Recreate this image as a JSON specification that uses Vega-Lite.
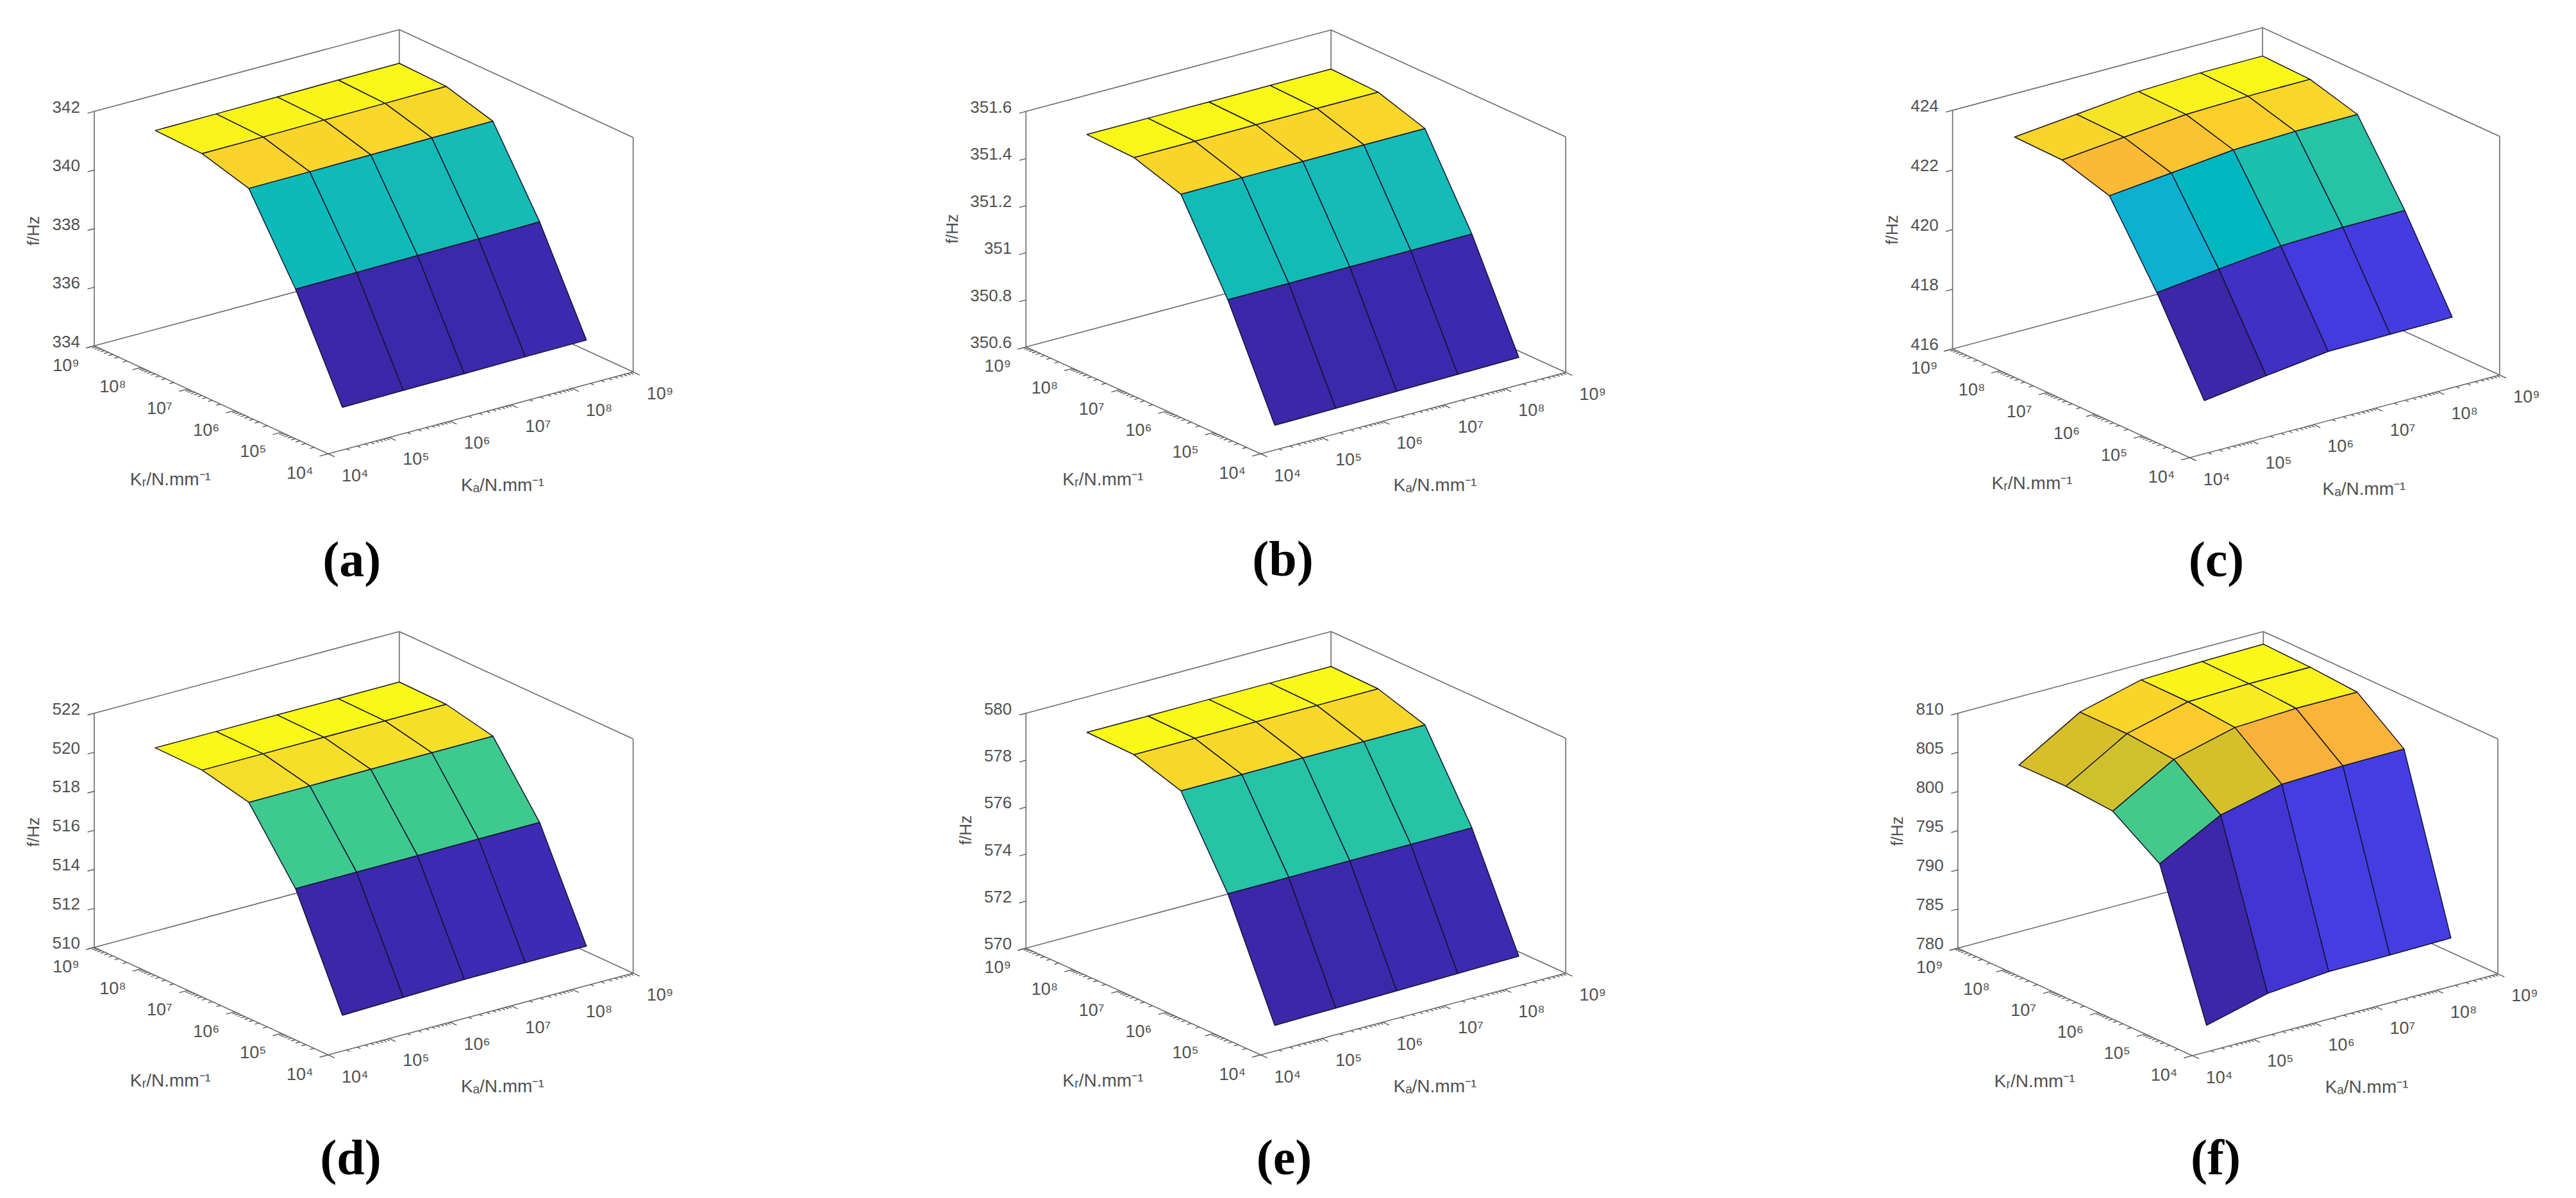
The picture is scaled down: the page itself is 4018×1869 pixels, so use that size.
{
"$schema":"https://vega.github.io/schema/vega-lite/v6.json",
"width":4018,"height":1869,"padding":0,
"autosize":{"type":"fit","contains":"padding"},
"background":"#ffffff",
"config":{"view":{"stroke":null}},
"params":[{"name":"g","value":{
"a":{"fx":511.8,"fy":708,"ux":95.16,"uy":-25.54,"vx":-72.96,"vy":-33.69,"zh":365.7,"z0":334,"z1":342,"tx":53,"ty":360,"cx":548.7,"cy":876},
"b":{"fx":1966.4,"fy":708,"ux":95.16,"uy":-25.42,"vx":-73.22,"vy":-33.33,"zh":367.5,"z0":350.6,"z1":351.6,"tx":1486,"ty":357,"cx":2001,"cy":875},
"c":{"fx":3415.5,"fy":714,"ux":96.69,"uy":-25.78,"vx":-73.98,"vy":-33.93,"zh":372.3,"z0":416,"z1":424,"tx":2951.5,"ty":358.5,"cx":3457,"cy":876},
"d":{"fx":511.8,"fy":1645.7,"ux":95.16,"uy":-25.51,"vx":-72.96,"vy":-33.54,"zh":365.3,"z0":510,"z1":522,"tx":53,"ty":1298,"cx":547,"cy":1809},
"e":{"fx":1966.4,"fy":1645.7,"ux":95.16,"uy":-25.51,"vx":-73.22,"vy":-33.3,"zh":366.5,"z0":570,"z1":580,"tx":1507,"ty":1295,"cx":2003,"cy":1809},
"f":{"fx":3419.6,"fy":1646.9,"ux":95.29,"uy":-25.51,"vx":-73.16,"vy":-33.54,"zh":366.5,"z0":780,"z1":810,"tx":2960,"ty":1296.5,"cx":3456,"cy":1809}
}}],
"datasets":{
"panels":[{"panel":"a","caption":"(a)"},{"panel":"b","caption":"(b)"},{"panel":"c","caption":"(c)"},{"panel":"d","caption":"(d)"},{"panel":"e","caption":"(e)"},{"panel":"f","caption":"(f)"}],
"edges":[
{"ka1":4,"kr1":9,"l1":0,"ka2":4,"kr2":4,"l2":0},
{"ka1":4,"kr1":4,"l1":0,"ka2":9,"kr2":4,"l2":0},
{"ka1":4,"kr1":9,"l1":0,"ka2":9,"kr2":9,"l2":0},
{"ka1":9,"kr1":4,"l1":0,"ka2":9,"kr2":9,"l2":0},
{"ka1":4,"kr1":9,"l1":0,"ka2":4,"kr2":9,"l2":1},
{"ka1":9,"kr1":4,"l1":0,"ka2":9,"kr2":4,"l2":1},
{"ka1":9,"kr1":9,"l1":0,"ka2":9,"kr2":9,"l2":1},
{"ka1":4,"kr1":9,"l1":1,"ka2":9,"kr2":9,"l2":1},
{"ka1":9,"kr1":4,"l1":1,"ka2":9,"kr2":9,"l2":1}
],
"logticks":[
{"e":4,"len":0.14},{"e":4.301,"len":0.07},{"e":4.477,"len":0.07},{"e":4.602,"len":0.07},{"e":4.699,"len":0.07},{"e":4.778,"len":0.07},{"e":4.845,"len":0.07},{"e":4.903,"len":0.07},{"e":4.954,"len":0.07},
{"e":5,"len":0.14},{"e":5.301,"len":0.07},{"e":5.477,"len":0.07},{"e":5.602,"len":0.07},{"e":5.699,"len":0.07},{"e":5.778,"len":0.07},{"e":5.845,"len":0.07},{"e":5.903,"len":0.07},{"e":5.954,"len":0.07},
{"e":6,"len":0.14},{"e":6.301,"len":0.07},{"e":6.477,"len":0.07},{"e":6.602,"len":0.07},{"e":6.699,"len":0.07},{"e":6.778,"len":0.07},{"e":6.845,"len":0.07},{"e":6.903,"len":0.07},{"e":6.954,"len":0.07},
{"e":7,"len":0.14},{"e":7.301,"len":0.07},{"e":7.477,"len":0.07},{"e":7.602,"len":0.07},{"e":7.699,"len":0.07},{"e":7.778,"len":0.07},{"e":7.845,"len":0.07},{"e":7.903,"len":0.07},{"e":7.954,"len":0.07},
{"e":8,"len":0.14},{"e":8.301,"len":0.07},{"e":8.477,"len":0.07},{"e":8.602,"len":0.07},{"e":8.699,"len":0.07},{"e":8.778,"len":0.07},{"e":8.845,"len":0.07},{"e":8.903,"len":0.07},{"e":8.954,"len":0.07},
{"e":9,"len":0.14}
],
"decades":[{"e":4,"txt":"10⁴"},{"e":5,"txt":"10⁵"},{"e":6,"txt":"10⁶"},{"e":7,"txt":"10⁷"},{"e":8,"txt":"10⁸"},{"e":9,"txt":"10⁹"}],
"zticks":[
{"panel":"a","f":334},{"panel":"a","f":336},{"panel":"a","f":338},{"panel":"a","f":340},{"panel":"a","f":342},
{"panel":"b","f":350.6},{"panel":"b","f":350.8},{"panel":"b","f":351},{"panel":"b","f":351.2},{"panel":"b","f":351.4},{"panel":"b","f":351.6},
{"panel":"c","f":416},{"panel":"c","f":418},{"panel":"c","f":420},{"panel":"c","f":422},{"panel":"c","f":424},
{"panel":"d","f":510},{"panel":"d","f":512},{"panel":"d","f":514},{"panel":"d","f":516},{"panel":"d","f":518},{"panel":"d","f":520},{"panel":"d","f":522},
{"panel":"e","f":570},{"panel":"e","f":572},{"panel":"e","f":574},{"panel":"e","f":576},{"panel":"e","f":578},{"panel":"e","f":580},
{"panel":"f","f":780},{"panel":"f","f":785},{"panel":"f","f":790},{"panel":"f","f":795},{"panel":"f","f":800},{"panel":"f","f":805},{"panel":"f","f":810}
],
"grid":[
{"panel":"a","ka":5,"kr":5,"f":334.29},{"panel":"a","ka":6,"kr":5,"f":334.31},{"panel":"a","ka":7,"kr":5,"f":334.32},{"panel":"a","ka":8,"kr":5,"f":334.34},{"panel":"a","ka":9,"kr":5,"f":334.35},
{"panel":"a","ka":5,"kr":6,"f":337.59},{"panel":"a","ka":6,"kr":6,"f":337.6},{"panel":"a","ka":7,"kr":6,"f":337.62},{"panel":"a","ka":8,"kr":6,"f":337.63},{"panel":"a","ka":9,"kr":6,"f":337.65},
{"panel":"a","ka":5,"kr":7,"f":340.29},{"panel":"a","ka":6,"kr":7,"f":340.3},{"panel":"a","ka":7,"kr":7,"f":340.32},{"panel":"a","ka":8,"kr":7,"f":340.34},{"panel":"a","ka":9,"kr":7,"f":340.35},
{"panel":"a","ka":5,"kr":8,"f":340.74},{"panel":"a","ka":6,"kr":8,"f":340.75},{"panel":"a","ka":7,"kr":8,"f":340.77},{"panel":"a","ka":8,"kr":8,"f":340.78},{"panel":"a","ka":9,"kr":8,"f":340.8},
{"panel":"a","ka":5,"kr":9,"f":340.79},{"panel":"a","ka":6,"kr":9,"f":340.8},{"panel":"a","ka":7,"kr":9,"f":340.82},{"panel":"a","ka":8,"kr":9,"f":340.84},{"panel":"a","ka":9,"kr":9,"f":340.85},
{"panel":"b","ka":5,"kr":5,"f":350.561},{"panel":"b","ka":6,"kr":5,"f":350.564},{"panel":"b","ka":7,"kr":5,"f":350.567},{"panel":"b","ka":8,"kr":5,"f":350.57},{"panel":"b","ka":9,"kr":5,"f":350.573},
{"panel":"b","ka":5,"kr":6,"f":351.004},{"panel":"b","ka":6,"kr":6,"f":351.004},{"panel":"b","ka":7,"kr":6,"f":351.005},{"panel":"b","ka":8,"kr":6,"f":351.005},{"panel":"b","ka":9,"kr":6,"f":351.006},
{"panel":"b","ka":5,"kr":7,"f":351.361},{"panel":"b","ka":6,"kr":7,"f":351.362},{"panel":"b","ka":7,"kr":7,"f":351.362},{"panel":"b","ka":8,"kr":7,"f":351.363},{"panel":"b","ka":9,"kr":7,"f":351.363},
{"panel":"b","ka":5,"kr":8,"f":351.426},{"panel":"b","ka":6,"kr":8,"f":351.426},{"panel":"b","ka":7,"kr":8,"f":351.427},{"panel":"b","ka":8,"kr":8,"f":351.427},{"panel":"b","ka":9,"kr":8,"f":351.427},
{"panel":"b","ka":5,"kr":9,"f":351.433},{"panel":"b","ka":6,"kr":9,"f":351.433},{"panel":"b","ka":7,"kr":9,"f":351.433},{"panel":"b","ka":8,"kr":9,"f":351.434},{"panel":"b","ka":9,"kr":9,"f":351.434},
{"panel":"c","ka":5,"kr":5,"f":416.63},{"panel":"c","ka":6,"kr":5,"f":416.91},{"panel":"c","ka":7,"kr":5,"f":417.17},{"panel":"c","ka":8,"kr":5,"f":417.19},{"panel":"c","ka":9,"kr":5,"f":417.21},
{"panel":"c","ka":5,"kr":6,"f":419.52},{"panel":"c","ka":6,"kr":6,"f":419.76},{"panel":"c","ka":7,"kr":6,"f":419.98},{"panel":"c","ka":8,"kr":6,"f":420.05},{"panel":"c","ka":9,"kr":6,"f":420.06},
{"panel":"c","ka":5,"kr":7,"f":422.04},{"panel":"c","ka":6,"kr":7,"f":422.25},{"panel":"c","ka":7,"kr":7,"f":422.47},{"panel":"c","ka":8,"kr":7,"f":422.54},{"panel":"c","ka":9,"kr":7,"f":422.55},
{"panel":"c","ka":5,"kr":8,"f":422.51},{"panel":"c","ka":6,"kr":8,"f":422.72},{"panel":"c","ka":7,"kr":8,"f":422.93},{"panel":"c","ka":8,"kr":8,"f":422.99},{"panel":"c","ka":9,"kr":8,"f":423},
{"panel":"c","ka":5,"kr":9,"f":422.55},{"panel":"c","ka":6,"kr":9,"f":422.76},{"panel":"c","ka":7,"kr":9,"f":422.97},{"panel":"c","ka":8,"kr":9,"f":423.04},{"panel":"c","ka":9,"kr":9,"f":423.05},
{"panel":"d","ka":5,"kr":5,"f":510.09},{"panel":"d","ka":6,"kr":5,"f":510.17},{"panel":"d","ka":7,"kr":5,"f":510.25},{"panel":"d","ka":8,"kr":5,"f":510.27},{"panel":"d","ka":9,"kr":5,"f":510.28},
{"panel":"d","ka":5,"kr":6,"f":515.48},{"panel":"d","ka":6,"kr":6,"f":515.49},{"panel":"d","ka":7,"kr":6,"f":515.5},{"panel":"d","ka":8,"kr":6,"f":515.51},{"panel":"d","ka":9,"kr":6,"f":515.52},
{"panel":"d","ka":5,"kr":7,"f":518.8},{"panel":"d","ka":6,"kr":7,"f":518.81},{"panel":"d","ka":7,"kr":7,"f":518.82},{"panel":"d","ka":8,"kr":7,"f":518.83},{"panel":"d","ka":9,"kr":7,"f":518.84},
{"panel":"d","ka":5,"kr":8,"f":519.35},{"panel":"d","ka":6,"kr":8,"f":519.35},{"panel":"d","ka":7,"kr":8,"f":519.36},{"panel":"d","ka":8,"kr":8,"f":519.36},{"panel":"d","ka":9,"kr":8,"f":519.37},
{"panel":"d","ka":5,"kr":9,"f":519.39},{"panel":"d","ka":6,"kr":9,"f":519.39},{"panel":"d","ka":7,"kr":9,"f":519.4},{"panel":"d","ka":8,"kr":9,"f":519.4},{"panel":"d","ka":9,"kr":9,"f":519.41},
{"panel":"e","ka":5,"kr":5,"f":569.65},{"panel":"e","ka":6,"kr":5,"f":569.69},{"panel":"e","ka":7,"kr":5,"f":569.73},{"panel":"e","ka":8,"kr":5,"f":569.77},{"panel":"e","ka":9,"kr":5,"f":569.81},
{"panel":"e","ka":5,"kr":6,"f":574.35},{"panel":"e","ka":6,"kr":6,"f":574.35},{"panel":"e","ka":7,"kr":6,"f":574.36},{"panel":"e","ka":8,"kr":6,"f":574.36},{"panel":"e","ka":9,"kr":6,"f":574.37},
{"panel":"e","ka":5,"kr":7,"f":577.82},{"panel":"e","ka":6,"kr":7,"f":577.82},{"panel":"e","ka":7,"kr":7,"f":577.83},{"panel":"e","ka":8,"kr":7,"f":577.83},{"panel":"e","ka":9,"kr":7,"f":577.84},
{"panel":"e","ka":5,"kr":8,"f":578.45},{"panel":"e","ka":6,"kr":8,"f":578.45},{"panel":"e","ka":7,"kr":8,"f":578.46},{"panel":"e","ka":8,"kr":8,"f":578.46},{"panel":"e","ka":9,"kr":8,"f":578.47},
{"panel":"e","ka":5,"kr":9,"f":578.49},{"panel":"e","ka":6,"kr":9,"f":578.49},{"panel":"e","ka":7,"kr":9,"f":578.5},{"panel":"e","ka":8,"kr":9,"f":578.5},{"panel":"e","ka":9,"kr":9,"f":578.51},
{"panel":"f","ka":5,"kr":5,"f":779.04},{"panel":"f","ka":6,"kr":5,"f":781.02},{"panel":"f","ka":7,"kr":5,"f":781.73},{"panel":"f","ka":8,"kr":5,"f":781.75},{"panel":"f","ka":9,"kr":5,"f":781.84},
{"panel":"f","ka":5,"kr":6,"f":796.93},{"panel":"f","ka":6,"kr":6,"f":801.07},{"panel":"f","ka":7,"kr":6,"f":802.9},{"panel":"f","ka":8,"kr":6,"f":803.17},{"panel":"f","ka":9,"kr":6,"f":803.24},
{"panel":"f","ka":5,"kr":7,"f":800.9},{"panel":"f","ka":6,"kr":7,"f":805.43},{"panel":"f","ka":7,"kr":7,"f":807.41},{"panel":"f","ka":8,"kr":7,"f":807.77},{"panel":"f","ka":9,"kr":7,"f":807.75},
{"panel":"f","ka":5,"kr":8,"f":801.34},{"panel":"f","ka":6,"kr":8,"f":805.97},{"panel":"f","ka":7,"kr":8,"f":807.95},{"panel":"f","ka":8,"kr":8,"f":808.17},{"panel":"f","ka":9,"kr":8,"f":808.19},
{"panel":"f","ka":5,"kr":9,"f":801.29},{"panel":"f","ka":6,"kr":9,"f":805.97},{"panel":"f","ka":7,"kr":9,"f":808},{"panel":"f","ka":8,"kr":9,"f":808.26},{"panel":"f","ka":9,"kr":9,"f":808.38}
]
},
"encoding":{
"x":{"field":"px","type":"quantitative","scale":{"domain":[0,4018],"zero":false,"nice":false},"axis":null},
"y":{"field":"py","type":"quantitative","scale":{"domain":[1869,0],"zero":false,"nice":false},"axis":null}
},
"layer":[
{"data":{"name":"edges"},
"transform":[
{"calculate":"['a','b','c','d','e','f']","as":"panel"},{"flatten":["panel"]},
{"calculate":"g[datum.panel]","as":"p"},
{"calculate":"datum.p.fx+datum.p.ux*(datum.ka1-4)+datum.p.vx*(datum.kr1-4)","as":"px"},
{"calculate":"datum.p.fy+datum.p.uy*(datum.ka1-4)+datum.p.vy*(datum.kr1-4)-datum.p.zh*datum.l1","as":"py"},
{"calculate":"datum.p.fx+datum.p.ux*(datum.ka2-4)+datum.p.vx*(datum.kr2-4)","as":"px2"},
{"calculate":"datum.p.fy+datum.p.uy*(datum.ka2-4)+datum.p.vy*(datum.kr2-4)-datum.p.zh*datum.l2","as":"py2"}
],
"mark":{"type":"rule","stroke":"#6a6a6a","strokeWidth":1.6},
"encoding":{"x2":{"field":"px2"},"y2":{"field":"py2"}}},
{"data":{"name":"logticks"},
"transform":[
{"calculate":"['a','b','c','d','e','f']","as":"panel"},{"flatten":["panel"]},
{"calculate":"['ka','kr']","as":"axisName"},{"flatten":["axisName"]},
{"calculate":"g[datum.panel]","as":"p"},
{"calculate":"datum.axisName==='ka'?datum.e:4","as":"ka1"},
{"calculate":"datum.axisName==='kr'?datum.e:4","as":"kr1"},
{"calculate":"datum.axisName==='ka'?datum.e:4-datum.len","as":"ka2"},
{"calculate":"datum.axisName==='kr'?datum.e:4-datum.len","as":"kr2"},
{"calculate":"datum.p.fx+datum.p.ux*(datum.ka1-4)+datum.p.vx*(datum.kr1-4)","as":"px"},
{"calculate":"datum.p.fy+datum.p.uy*(datum.ka1-4)+datum.p.vy*(datum.kr1-4)","as":"py"},
{"calculate":"datum.p.fx+datum.p.ux*(datum.ka2-4)+datum.p.vx*(datum.kr2-4)","as":"px2"},
{"calculate":"datum.p.fy+datum.p.uy*(datum.ka2-4)+datum.p.vy*(datum.kr2-4)","as":"py2"}
],
"mark":{"type":"rule","stroke":"#5a5a5a","strokeWidth":1.4},
"encoding":{"x2":{"field":"px2"},"y2":{"field":"py2"}}},
{"data":{"name":"zticks"},
"transform":[
{"calculate":"g[datum.panel]","as":"p"},
{"calculate":"datum.p.fx+datum.p.vx*5","as":"px"},
{"calculate":"datum.p.fy+datum.p.vy*5-datum.p.zh*(datum.f-datum.p.z0)/(datum.p.z1-datum.p.z0)","as":"py"},
{"calculate":"datum.px-datum.p.ux*0.11","as":"px2"},
{"calculate":"datum.py-datum.p.uy*0.11","as":"py2"}
],
"mark":{"type":"rule","stroke":"#5a5a5a","strokeWidth":1.4},
"encoding":{"x2":{"field":"px2"},"y2":{"field":"py2"}}},
{"data":{"name":"grid"},
"transform":[
{"joinaggregate":[{"op":"min","field":"f","as":"fmin"},{"op":"max","field":"f","as":"fmax"}],"groupby":["panel"]},
{"calculate":"[0,1,2,3,4]","as":"corner"},{"flatten":["corner"]},
{"calculate":"datum.ka-[0,1,1,0,0][datum.corner]","as":"ci"},
{"calculate":"datum.kr-[0,0,1,1,0][datum.corner]","as":"cj"},
{"filter":"datum.ci>=5&&datum.ci<=8&&datum.cj>=5&&datum.cj<=8"},
{"window":[{"op":"first_value","field":"f","as":"fc"}],"sort":[{"field":"corner","order":"ascending"}],"groupby":["panel","ci","cj"]},
{"calculate":"(datum.fc-datum.fmin)/(datum.fmax-datum.fmin)","as":"t"},
{"calculate":"datum.panel+'-'+datum.ci+'-'+datum.cj","as":"cell"},
{"calculate":"g[datum.panel]","as":"p"},
{"calculate":"datum.p.fx+datum.p.ux*(datum.ka-4)+datum.p.vx*(datum.kr-4)","as":"px"},
{"calculate":"datum.p.fy+datum.p.uy*(datum.ka-4)+datum.p.vy*(datum.kr-4)-datum.p.zh*(datum.f-datum.p.z0)/(datum.p.z1-datum.p.z0)","as":"py"}
],
"mark":{"type":"line","stroke":"#14142e","strokeWidth":1.5,"strokeJoin":"round","interpolate":"linear"},
"encoding":{
"detail":{"field":"cell"},
"order":{"field":"corner","type":"quantitative"},
"fill":{"field":"t","type":"quantitative","legend":null,"scale":{"domain":[0,0.08,0.13,0.26,0.38,0.45,0.51,0.53,0.58,0.61,0.66,0.72,0.75,0.81,0.9,0.93,1],"range":["#3b27a8","#4338dd","#4750f0","#2d87f7","#10a9e0","#0cb0d0","#17bbb5","#26c3a7","#3ec98f","#45c98a","#80c860","#bec33c","#d2c02a","#f8b03b","#fdcb2d","#f5dc2a","#f9fb15"]}}
}},
{"data":{"name":"decades"},
"transform":[
{"calculate":"['a','b','c','d','e','f']","as":"panel"},{"flatten":["panel"]},
{"calculate":"['ka','kr']","as":"axisName"},{"flatten":["axisName"]},
{"calculate":"g[datum.panel]","as":"p"},
{"calculate":"datum.axisName==='ka'?datum.p.fx+datum.p.ux*(datum.e-4)+42:datum.p.fx+datum.p.vx*(datum.e-4)-44","as":"px"},
{"calculate":"datum.axisName==='ka'?datum.p.fy+datum.p.uy*(datum.e-4)+35:datum.p.fy+datum.p.vy*(datum.e-4)+31","as":"py"}
],
"mark":{"type":"text","font":"Liberation Sans","fontSize":27,"fill":"#505050","align":"center","baseline":"middle"},
"encoding":{"text":{"field":"txt"}}},
{"data":{"name":"zticks"},
"transform":[
{"calculate":"g[datum.panel]","as":"p"},
{"calculate":"datum.p.fx+datum.p.vx*5-22","as":"px"},
{"calculate":"datum.p.fy+datum.p.vy*5-datum.p.zh*(datum.f-datum.p.z0)/(datum.p.z1-datum.p.z0)-6","as":"py"},
{"calculate":"''+datum.f","as":"txt"}
],
"mark":{"type":"text","font":"Liberation Sans","fontSize":26,"fill":"#505050","align":"right","baseline":"middle"},
"encoding":{"text":{"field":"txt"}}},
{"data":{"name":"panels"},
"transform":[
{"calculate":"g[datum.panel]","as":"p"},
{"calculate":"datum.p.fx-246","as":"px"},
{"calculate":"datum.p.fy+41","as":"py"}
],
"mark":{"type":"text","font":"Liberation Sans","fontSize":28,"fill":"#505050","align":"center","baseline":"middle"},
"encoding":{"text":{"value":"Kᵣ/N.mm⁻¹"}}},
{"data":{"name":"panels"},
"transform":[
{"calculate":"g[datum.panel]","as":"p"},
{"calculate":"datum.p.fx+272","as":"px"},
{"calculate":"datum.p.fy+50","as":"py"}
],
"mark":{"type":"text","font":"Liberation Sans","fontSize":28,"fill":"#505050","align":"center","baseline":"middle"},
"encoding":{"text":{"value":"Kₐ/N.mm⁻¹"}}},
{"data":{"name":"panels"},
"transform":[
{"calculate":"g[datum.panel]","as":"p"},
{"calculate":"datum.p.tx","as":"px"},
{"calculate":"datum.p.ty","as":"py"}
],
"mark":{"type":"text","font":"Liberation Sans","fontSize":26,"fill":"#505050","align":"center","baseline":"middle","angle":270},
"encoding":{"text":{"value":"f/Hz"}}},
{"data":{"name":"panels"},
"transform":[
{"calculate":"g[datum.panel]","as":"p"},
{"calculate":"datum.p.cx","as":"px"},
{"calculate":"datum.p.cy","as":"py"}
],
"mark":{"type":"text","font":"Liberation Serif","fontSize":78,"fontWeight":"bold","fill":"#000000","align":"center","baseline":"middle"},
"encoding":{"text":{"field":"caption"}}}
]
}
